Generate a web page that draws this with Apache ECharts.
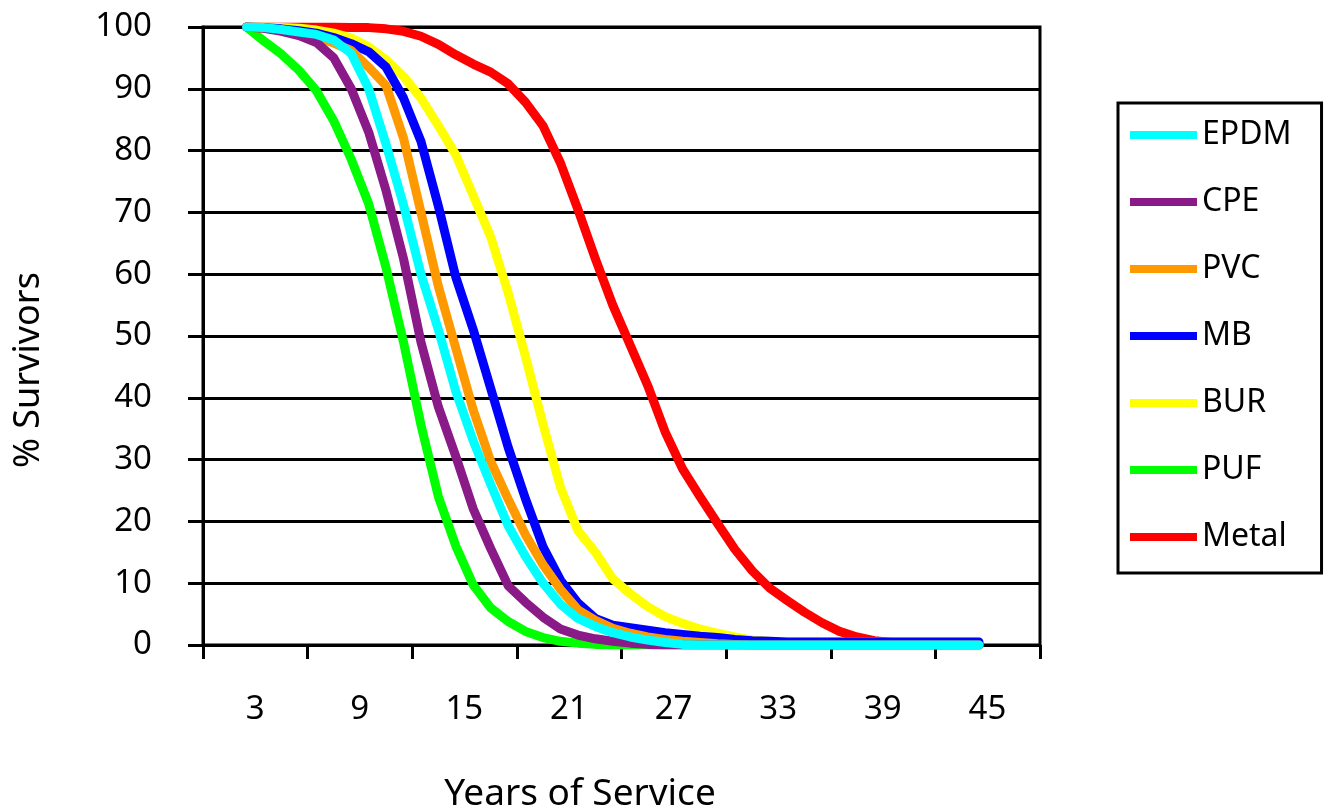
<!DOCTYPE html>
<html>
<head>
<meta charset="utf-8">
<title>Roof survival curves</title>
<script src="https://cdn.jsdelivr.net/npm/echarts@6/dist/echarts.min.js"></script>
<style>
  html, body { margin: 0; padding: 0; background: #fff; }
  #chart { width: 1327px; height: 812px; }
</style>
</head>
<body>
<div id="chart"></div>
<script>
// Year categories on the horizontal axis (one band per year)
const years = [1, 2, 3, 4, 5, 6, 7, 8, 9, 10, 11, 12, 13, 14, 15, 16, 17, 18, 19, 20, 21, 22, 23, 24,
               25, 26, 27, 28, 29, 30, 31, 32, 33, 34, 35, 36, 37, 38, 39, 40, 41, 42, 43, 44, 45, 46, 47, 48];
// Years that carry a tick label
const tickLabels = [3, 9, 15, 21, 27, 33, 39, 45];
// First year with survival data; every series runs from here to year 45
const firstYear = 3;

// % survivors per year (years 3..45)
const epdm  = [100, 99.9, 99.6, 99.2, 98.8, 97.9, 95.7, 90, 81, 71.2, 60, 51, 41, 33, 26, 19.3, 14.3, 10, 6.6, 4.3,
               3.0, 2.0, 1.3, 0.8, 0.4, 0.1, 0, 0, 0, 0, 0, 0, 0, 0, 0, 0, 0, 0, 0, 0, 0, 0, 0];
const cpe   = [100, 99.8, 99.3, 98.6, 97.5, 95, 90, 83, 73.5, 62.5, 49, 38.5, 30.5, 22, 15.6, 9.6, 6.9, 4.5, 2.6, 1.6,
               1.0, 0.6, 0.3, 0.1, 0, 0, 0, 0, 0, 0, 0, 0, 0, 0, 0, 0, 0, 0, 0, 0, 0, 0, 0];
const pvc   = [100, 99.8, 99.5, 99.0, 98.3, 97.4, 96.2, 93.5, 90.5, 82, 70, 58, 48, 38, 29.7, 23.6, 17.8, 13, 9, 5.7,
               4.0, 2.7, 1.9, 1.3, 0.9, 0.6, 0.4, 0.2, 0.1, 0, 0, 0, 0, 0, 0, 0, 0, 0, 0, 0, 0, 0, 0];
const mb    = [100, 99.9, 99.7, 99.4, 99.0, 98.3, 97.3, 96, 93.5, 88.5, 81.5, 71, 59.5, 51, 41.5, 32, 23.6, 15.9, 10.5, 6.8,
               4.3, 3.2, 2.8, 2.4, 2.0, 1.7, 1.4, 1.2, 0.9, 0.7, 0.6, 0.5, 0.5, 0.5, 0.5, 0.5, 0.5, 0.5, 0.5, 0.5, 0.5, 0.5, 0.5];
const bur   = [100, 100, 99.9, 99.8, 99.5, 99, 98.2, 96.8, 94.7, 92, 88.5, 84, 79.3, 72.7, 66, 57, 46.6, 35.7, 25.5, 18.5,
               15, 10.7, 8.3, 6.2, 4.6, 3.5, 2.6, 1.9, 1.3, 0.8, 0.6, 0.5, 0.5, 0.5, 0.5, 0.5, 0.5, 0.5, 0.5, 0.5, 0.5, 0.5, 0.5];
const puf   = [100, 97.7, 95.6, 93.0, 89.7, 84.8, 78.6, 71.4, 61, 49, 35.6, 24, 16, 9.7, 6, 3.8, 2.2, 1.2, 0.6, 0.3,
               0.1, 0, 0, 0, 0, 0, 0, 0, 0, 0, 0, 0, 0, 0, 0, 0, 0, 0, 0, 0, 0, 0, 0];
const metal = [100, 100, 100, 100, 100, 100, 99.9, 99.9, 99.7, 99.3, 98.5, 97.2, 95.5, 94, 92.7, 90.8, 87.8, 84, 78, 70.5,
               62.5, 55, 48.5, 42, 34.5, 28.5, 24, 19.7, 15.5, 12, 9.2, 7.2, 5.3, 3.6, 2.2, 1.3, 0.7, 0.4, 0.3, 0.3, 0.3, 0.3, 0.3];

const seriesNames  = ['EPDM', 'CPE', 'PVC', 'MB', 'BUR', 'PUF', 'Metal'];
const seriesValues = [epdm, cpe, pvc, mb, bur, puf, metal];
const seriesColors = ['#00FFFF', '#8A1A88', '#FF9900', '#0000FF', '#FFFF00', '#00FF00', '#FF0000'];

const yTicks = { min: 0, max: 100, interval: 10 };

const FONT = '"Noto Sans", "Open Sans", "DejaVu Sans", sans-serif';

// Spread each series over the year categories (null where there is no data)
function toCategoryData(values) {
  return years.map(function (y) {
    const i = y - firstYear;
    return (i >= 0 && i < values.length) ? values[i] : null;
  });
}

// Last series is painted on top, so list them back to front (EPDM ends up uppermost)
const series = [];
for (let k = seriesNames.length - 1; k >= 0; k--) {
  series.push({
    name: seriesNames[k],
    type: 'line',
    data: toCategoryData(seriesValues[k]),
    showSymbol: false,
    symbol: 'none',
    smooth: false,
    color: seriesColors[k],
    lineStyle: { width: 9, color: seriesColors[k], cap: 'round', join: 'round' },
    emphasis: { disabled: true }
  });
}

const chart = echarts.init(document.getElementById('chart'), null, { renderer: 'canvas' });
chart.setOption({
  animation: false,
  backgroundColor: '#ffffff',
  textStyle: { fontFamily: FONT },
  grid: {
    left: 203, top: 27, width: 837, height: 618,
    show: true, borderColor: '#000', borderWidth: 3, backgroundColor: 'transparent'
  },
  xAxis: {
    type: 'category',
    data: years,
    boundaryGap: true,
    axisLine: { show: true, lineStyle: { color: '#000', width: 3 } },
    axisTick: {
      show: true, length: 14, inside: false,
      interval: function (index) { return index % 6 === 0; },
      lineStyle: { color: '#000', width: 3 }
    },
    axisLabel: {
      show: true,
      interval: function (index, value) { return tickLabels.indexOf(Number(value)) !== -1; },
      color: '#000', fontSize: 33, fontFamily: FONT,
      margin: 48,
      padding: [0, 0, 0, 17]
    },
    splitLine: { show: false }
  },
  yAxis: {
    type: 'value',
    min: yTicks.min, max: yTicks.max, interval: yTicks.interval,
    axisLine: { show: true, lineStyle: { color: '#000', width: 3 } },
    axisTick: { show: true, length: 15, inside: false, lineStyle: { color: '#000', width: 3 } },
    axisLabel: { color: '#000', fontSize: 33, fontFamily: FONT, margin: 51 },
    splitLine: { show: true, lineStyle: { color: '#000', width: 3 } }
  },
  legend: {
    orient: 'vertical',
    left: 1118, top: 103,
    data: seriesNames,
    icon: 'rect',
    itemWidth: 67, itemHeight: 8,
    itemGap: 35, itemTextGap: 16,
    padding: [16, 30, 20, 12],
    borderColor: '#000', borderWidth: 3,
    backgroundColor: '#fff',
    selectedMode: false,
    textStyle: { color: '#000', fontSize: 32, fontFamily: FONT }
  },
  graphic: [
    {
      type: 'text', x: 29, y: 370, rotation: Math.PI / 2,
      style: { text: '% Survivors', fill: '#000', font: '36px ' + FONT, align: 'center', verticalAlign: 'middle' }
    },
    {
      type: 'text', x: 580, y: 794,
      style: { text: 'Years of Service', fill: '#000', font: '37px ' + FONT, align: 'center', verticalAlign: 'middle' }
    }
  ],
  series: series
});
</script>
</body>
</html>
